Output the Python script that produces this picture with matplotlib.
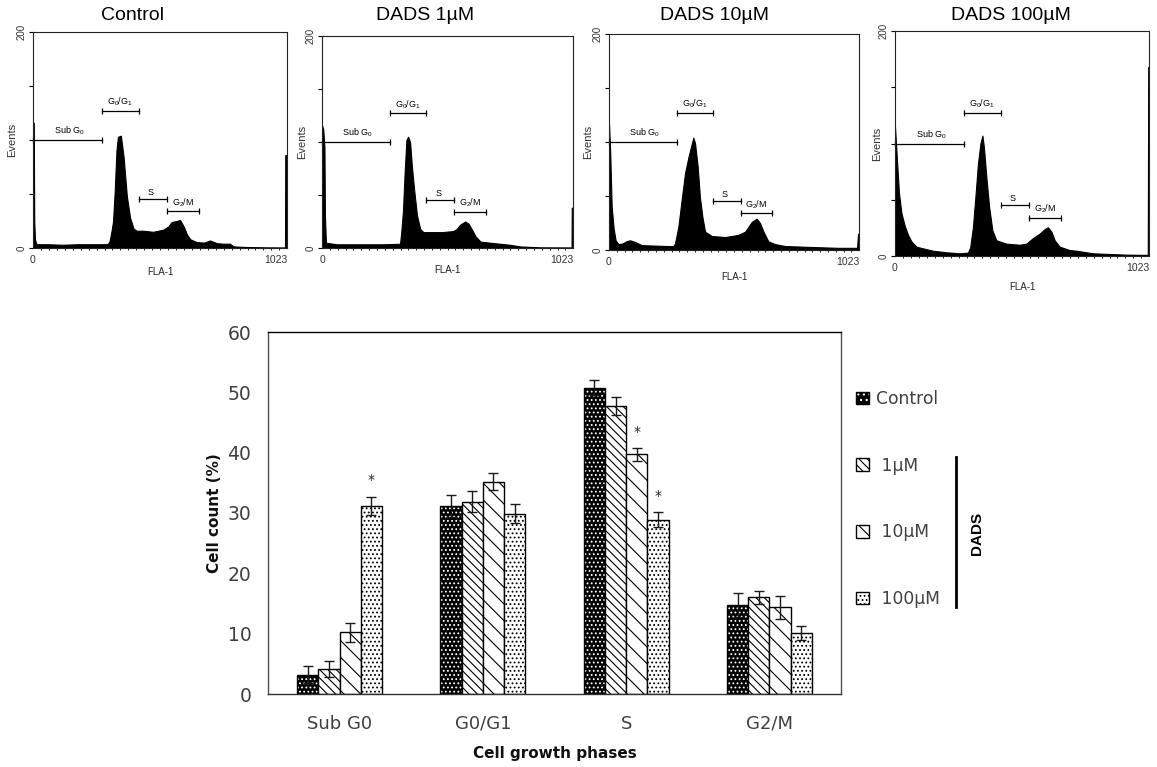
import matplotlib
matplotlib.use('Agg')
import matplotlib.pyplot as plt
from matplotlib.patches import Patch
from matplotlib.lines import Line2D
from matplotlib.ticker import FixedLocator, MultipleLocator

plt.rcParams['mathtext.fontset'] = 'custom'
plt.rcParams['mathtext.rm'] = 'Liberation Sans'
plt.rcParams['mathtext.it'] = 'Liberation Sans:italic'
plt.rcParams['mathtext.bf'] = 'Liberation Sans:bold'
plt.rcParams['hatch.linewidth'] = 0.8

# ---------------- DATA ----------------
# Flow cytometry histograms (outline points: channel, events)
panel_titles = ['Control', 'DADS 1µM', 'DADS 10µM', 'DADS 100µM']

ctrl_ch = [0, 3, 5, 8, 14, 60, 120, 180, 240, 300, 308, 315, 322, 329, 336, 342, 354, 365, 378, 391,
           405, 417, 444, 484, 525, 545, 558, 579, 592, 607, 621, 634, 659, 690, 713, 740, 765, 793,
           807, 850, 928, 1000, 1015, 1016, 1023]
ctrl_ev = [116, 116, 25, 8, 3.5, 3.5, 3, 3.5, 3.5, 3.5, 6, 14, 24, 52, 90, 103, 104, 84, 48, 28,
           18, 16, 16, 15, 17, 20, 24, 25, 26, 20, 12, 8, 5.5, 5, 7, 4.5, 4, 4,
           1.5, 1, 0.6, 0.5, 0.5, 86, 86]

d1_ch = [0, 5, 10, 12, 16, 60, 150, 250, 318, 323, 330, 337, 344, 351, 359, 366, 376, 387, 400, 413,
         440, 490, 535, 549, 563, 583, 597, 612, 626, 646, 685, 726, 767, 808, 890, 1012, 1017, 1018, 1023]
d1_ev = [116, 112, 95, 30, 5, 3.5, 3.5, 3.5, 4, 15, 35, 72, 102, 105, 100, 78, 54, 31, 18, 15,
         15, 15, 16, 18, 22, 25, 23, 17, 11, 6, 5, 4, 3, 1.5, 0.6, 0.5, 0.5, 38, 38]

d10_ch = [0, 5, 11, 19, 27, 38, 55, 70, 85, 106, 134, 200, 263, 270, 284, 297, 311, 325, 336, 345,
          352, 363, 372, 382, 393, 420, 475, 529, 557, 584, 604, 618, 632, 652, 679, 720, 802, 938,
          1015, 1019, 1023]
d10_ev = [117, 90, 40, 20, 9, 5.5, 6, 8, 9, 7.5, 4.5, 4, 3.5, 6, 22, 46, 71, 86, 96, 104,
          99, 77, 49, 31, 17, 13, 12, 14, 17, 26, 29, 25, 17, 8, 5.5, 3.7, 3, 2,
          2, 15, 15]

d100_ch = [0, 8, 16, 26, 39, 52, 66, 86, 113, 153, 207, 260, 294, 303, 314, 325, 334, 344, 352, 358,
           368, 379, 392, 408, 448, 502, 529, 556, 583, 603, 616, 630, 643, 663, 703, 730, 797, 932,
           1018, 1020, 1023]
d100_ev = [115, 85, 56, 38, 27, 19, 13, 8.3, 6.8, 4.7, 3.3, 2.4, 3, 8, 26, 56, 82, 100, 107, 97,
           70, 44, 23, 14, 11, 10, 11, 16, 20, 24, 25.5, 21.6, 14, 8.3, 5.3, 4.7, 2.4, 1.2,
           1, 168, 168]

# Gates (markers) on histograms
gate_labels = [r'Sub G$_\mathregular{0}$', r'G$_\mathregular{0}$/G$_\mathregular{1}$', 'S',
               r'G$_\mathregular{2}$/M']
gate_lo = [0, 278, 425, 540]
gate_hi = [278, 425, 540, 667]
gate_lvl = [100, 127, 45, 34]
gate_text_ch = [145, 350, 474, 603]

# Bar chart
phases = ['Sub G0', 'G0/G1', 'S', 'G2/M']
groups = ['Control', '1µM', '10µM', '100µM']
ctrl_mean = [3.2, 31.2, 50.8, 14.7]
um1_mean = [4.1, 31.9, 47.7, 16.0]
um10_mean = [10.2, 35.2, 39.7, 14.4]
um100_mean = [31.2, 29.9, 28.9, 10.1]
ctrl_err = [1.4, 1.8, 1.2, 2.0]
um1_err = [1.3, 1.8, 1.5, 1.0]
um10_err = [1.6, 1.4, 1.0, 1.9]
um100_err = [1.5, 1.6, 1.2, 1.2]
sig_group = [3, 2, 3]   # index into groups
sig_phase = [0, 2, 2]   # index into phases

# ---------------- FIGURE ----------------
W, H = 1157, 767
fig = plt.figure(figsize=(W / 100, H / 100), dpi=100)

def rect(l, t, r, b):
    return [l / W, 1 - b / H, (r - l) / W, (b - t) / H]

hist_rects = [rect(33, 32, 287, 248), rect(322, 36, 573, 248),
              rect(609, 34, 859, 250), rect(895, 31, 1149, 256)]
title_x = [133, 425, 715, 1011]
ylab_x = [17, 307, 593, 882]
xlab_top = [267, 265, 272, 282]
hist_data = [(ctrl_ch, ctrl_ev), (d1_ch, d1_ev), (d10_ch, d10_ev), (d100_ch, d100_ev)]

HF = 'Liberation Sans'
for i, (rc, (ch, ev)) in enumerate(zip(hist_rects, hist_data)):
    ax = fig.add_axes(rc)
    ax.fill_between(ch, ev, 0, color='black', lw=0.8)
    ax.set_xlim(0, 1023)
    ax.set_ylim(0, 200)
    for s in ax.spines.values():
        s.set_linewidth(0.8)
        s.set_color('#222222')
    ax.yaxis.set_major_locator(FixedLocator([0, 50, 100, 150, 200]))
    ax.set_yticklabels(['0', '', '', '', '200'], rotation=90, va='center',
                       fontsize=7, family=HF, color='#333333')
    ax.tick_params(axis='y', direction='out', length=3, width=0.8, pad=1.5)
    ax.xaxis.set_major_locator(FixedLocator([0, 1023]))
    xt = ax.set_xticklabels(['0', '1023'], fontsize=7.5, family=HF, color='#333333')
    xt[1].set_ha('right')
    ax.xaxis.set_minor_locator(MultipleLocator(32))
    ax.tick_params(axis='x', which='major', length=0, pad=5)
    ax.tick_params(axis='x', which='minor', direction='out', length=1.5, width=0.6)
    ax.set_ylabel('Events', fontsize=8, family=HF, color='#333333')
    axw = rc[2] * W
    axh = rc[3] * H
    ax.yaxis.set_label_coords((ylab_x[i] - rc[0] * W) / axw, 0.5)
    ax.set_xlabel('FLA-1', fontsize=7, family=HF, color='#222222')
    bottom_px = (1 - rc[1]) * H
    ax.xaxis.set_label_coords(0.5, -(xlab_top[i] - bottom_px) / axh)
    for lab, lo, hi, lv, tc in zip(gate_labels, gate_lo, gate_hi, gate_lvl, gate_text_ch):
        ax.plot([lo, hi], [lv, lv], color='black', lw=0.9, marker='|', ms=5, mew=0.9,
                clip_on=False)
        ax.text(tc, lv + 2.5, lab, fontsize=6.5, family=HF, ha='center', va='bottom')
    fig.text(title_x[i] / W, 1 - 15.5 / H, panel_titles[i], fontsize=14, family=HF,
             ha='center', va='center')

# ---------------- BAR CHART ----------------
BF = 'DejaVu Sans'
GREY = '#404040'
bax = fig.add_axes(rect(268, 332, 841, 694))
means = [ctrl_mean, um1_mean, um10_mean, um100_mean]
errs = [ctrl_err, um1_err, um10_err, um100_err]
hatches = ['....', '\\\\\\\\', '\\\\', '....']
w = 0.148
xs = list(range(len(phases)))
handles = []
for j in range(4):
    xpos = [x + (j - 1.5) * w for x in xs]
    if j == 0:
        bax.bar(xpos, means[j], w, color='black', edgecolor='white', hatch=hatches[j], lw=0)
        bax.bar(xpos, means[j], w, fill=False, edgecolor='black', lw=1)
        h = (Patch(facecolor='black', edgecolor='white', hatch='...', lw=0),
             Patch(fill=False, edgecolor='black', lw=1))
    else:
        bax.bar(xpos, means[j], w, facecolor='white', edgecolor='black', hatch=hatches[j], lw=1)
        h = Patch(facecolor='white', edgecolor='black', hatch=hatches[j], lw=1)
    handles.append(h)
    bax.errorbar(xpos, means[j], yerr=errs[j], fmt='none', ecolor='#1a1a1a', elinewidth=1,
                 capsize=3.5, capthick=1)

for g, p in zip(sig_group, sig_phase):
    xp = xs[p] + (g - 1.5) * w
    bax.text(xp, means[g][p] + errs[g][p] + 2.8, '*', ha='center', va='center',
             fontsize=10, color='#222222', family=BF)

bax.set_xlim(-0.5, 3.5)
bax.set_ylim(0, 60)
bax.set_yticks(range(0, 61, 10))
bax.set_xticks(xs)
bax.set_xticklabels(phases)
bax.tick_params(axis='y', length=0, pad=12, labelsize=13.5, labelcolor=GREY)
bax.tick_params(axis='x', length=0, pad=15, labelsize=13, labelcolor=GREY)
for lab in bax.get_xticklabels() + bax.get_yticklabels():
    lab.set_family(BF)
for k, s in bax.spines.items():
    s.set_linewidth(1)
    s.set_color('#505050')
bax.spines['top'].set_color('black')
bax.spines['bottom'].set_color('#303030')
bax.set_ylabel('Cell count (%)', fontsize=11, fontweight='bold', family=BF, color='#111111')
bax.yaxis.set_label_coords((222 - 268) / 573, 0.5)
bax.set_xlabel('Cell growth phases', fontsize=11, fontweight='bold', family=BF, color='#111111')
bax.xaxis.set_label_coords(0.5, -(746 - 694) / 362)

labels = ['Control', ' 1µM', ' 10µM', ' 100µM']
leg = fig.legend(handles, labels, loc='upper left', bbox_to_anchor=(856 / W, 1 - 390 / H),
                 frameon=False, borderpad=0, borderaxespad=0, handlelength=0.75,
                 handleheight=0.75, handletextpad=0.4, labelspacing=2.85,
                 prop={'family': BF, 'size': 12.3})
for t in leg.get_texts():
    t.set_color(GREY)

fig.add_artist(Line2D([956 / W, 956 / W], [1 - 457 / H, 1 - 607 / H], color='black', lw=2))
fig.text(977 / W, 1 - 533 / H, 'DADS', rotation=90, ha='center', va='center',
         fontsize=11, fontweight='bold', family=HF)

fig.savefig('out.png', dpi=100)
